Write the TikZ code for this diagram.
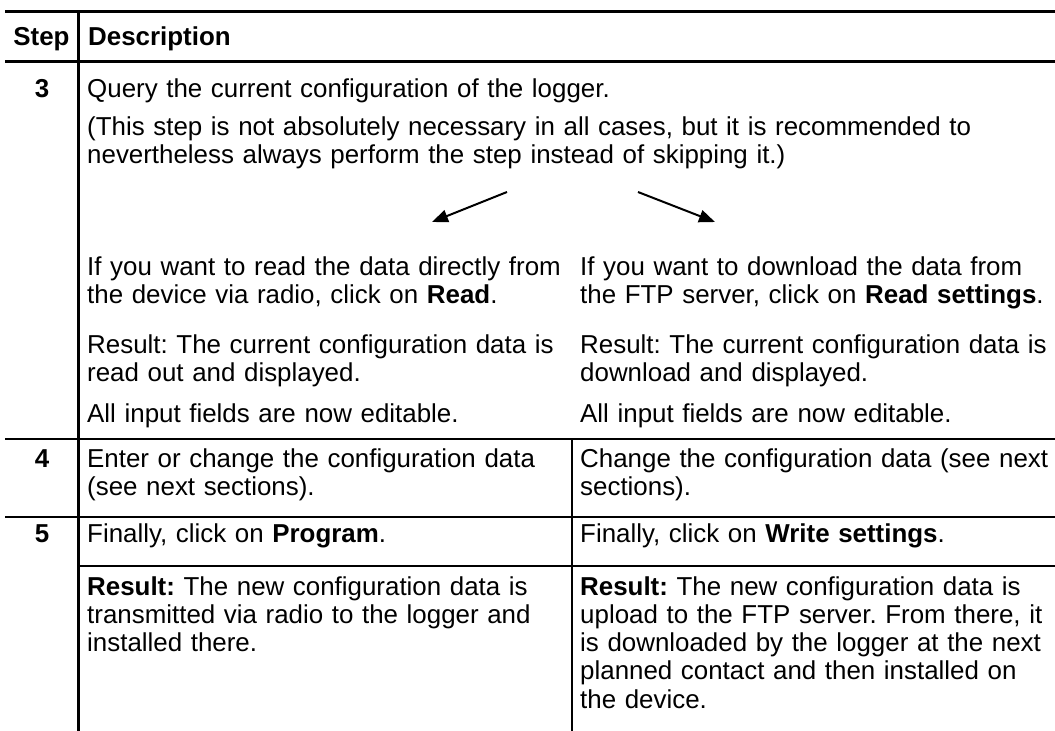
\documentclass[tikz,border=0pt]{standalone}
\usepackage{fontspec}
\setmainfont{Liberation Sans}
\usetikzlibrary{arrows.meta}
\frenchspacing

\begin{document}
\begin{tikzpicture}[x = 1pt, y = -1pt,
    txt/.style = {anchor = base west, inner sep = 0pt, text width = 600pt,
                  align = left, font = \fontsize{25.9}{28.3}\selectfont},
    num/.style = {anchor = base, inner sep = 0pt,
                  font = \fontsize{25.9}{28.3}\selectfont\bfseries},
    rule/.style = {line width = 2.2pt},
    heavy/.style = {line width = 3.5pt},
    colrule/.style = {line width = 2.6pt},
    fork/.style = {line width = 2pt, -{Triangle[length = 16pt, width = 12.5pt]}}]
        \useasboundingbox (0,0) rectangle (1055,731);

        % table rules
        \draw[heavy] (5,11.5) -- (1055,11.5);
        \draw[heavy] (5,61.5) -- (1055,61.5);
        \draw[rule] (5,439) -- (1055,439);
        \draw[rule] (5,517) -- (1055,517);
        \draw[rule] (78.5,566) -- (1055,566);
        \draw[colrule] (78.5,11.5) -- (78.5,731);
        \draw[colrule] (572,439) -- (572,731);

        % header
        \node[num] (hstep) at (41.5,45) {Step};
        \node[txt, font = \fontsize{25.9}{28.3}\selectfont\bfseries] (hdesc) at (88,45) {Description};

        % step 3
        \node[num] (s3) at (42,97) {3};
        \node[txt] (query) at (87,97) {Query the current configuration of the logger.};
        \node[txt, text width = 960pt] (note) at (87,135)
          {(This step is not absolutely necessary in all cases, but it is recommended to\\
           nevertheless always perform the step instead of skipping it.)};

        \coordinate (forkl) at (507,192);
        \coordinate (tipl) at (432,222);
        \coordinate (forkr) at (638,192);
        \coordinate (tipr) at (715,222);
        \draw[fork] (forkl) -- (tipl);
        \draw[fork] (forkr) -- (tipr);

        \node[txt] (radio) at (87,275)
          {If you want to read the data directly from\\
           the device via radio, click on \textbf{Read}.};
        \node[txt] (radiores) at (87,353)
          {Result: The current configuration data is\\
           read out and displayed.};
        \node[txt] (radioedit) at (87,422) {All input fields are now editable.};

        \node[txt] (ftp) at (580,275)
          {If you want to download the data from\\
           the FTP server, click on \textbf{Read settings}.};
        \node[txt] (ftpres) at (580,353)
          {Result: The current configuration data is\\
           download and displayed.};
        \node[txt] (ftpedit) at (580,422) {All input fields are now editable.};

        % step 4
        \node[num] (s4) at (42,467) {4};
        \node[txt] (enter) at (87,467)
          {Enter or change the configuration data\\
           (see next sections).};
        \node[txt] (change) at (580,467)
          {Change the configuration data (see next\\
           sections).};

        % step 5
        \node[num] (s5) at (42,542) {5};
        \node[txt] (prog) at (87,542) {Finally, click on \textbf{Program}.};
        \node[txt] (write) at (580,542) {Finally, click on \textbf{Write settings}.};

        \node[txt] (progres) at (87,595)
          {\textbf{Result:} The new configuration data is\\
           transmitted via radio to the logger and\\
           installed there.};
        \node[txt] (writeres) at (580,595)
          {\textbf{Result:} The new configuration data is\\
           upload to the FTP server. From there, it\\
           is downloaded by the logger at the next\\
           planned contact and then installed on\\
           the device.};
      \end{tikzpicture}
\end{document}
